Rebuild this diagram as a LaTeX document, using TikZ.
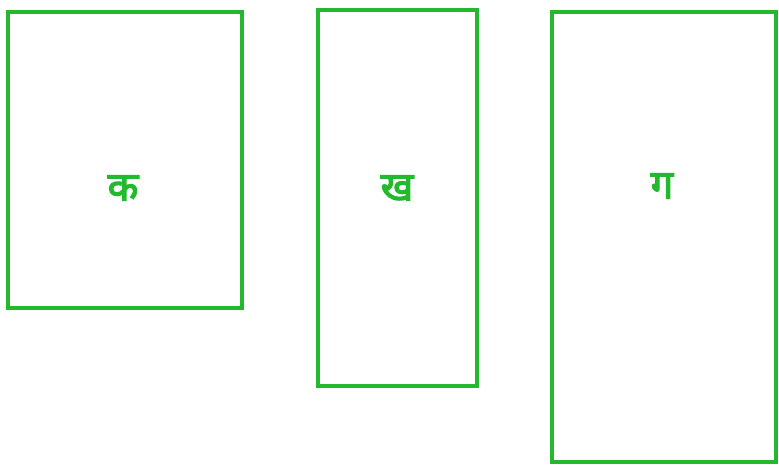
\documentclass[tikz,border=0pt]{standalone}
\usepackage{fontspec}
\newfontfamily\deva[Script=Devanagari, FakeBold=3]{Noto Sans}
\definecolor{boxgreen}{RGB}{35,185,45}
\tikzset{
  panel/.style={draw=boxgreen, line width=3.6pt, fill=white},
  letter/.style={text=boxgreen, font=\deva\fontsize{40}{44}\selectfont, inner sep=0pt}
}
\begin{document}
\begin{tikzpicture}[x=1pt,y=-1pt]
\useasboundingbox (0,0) rectangle (779,465);
\fill[white] (0,0) rectangle (779,465);
\draw[panel] (8,12) rectangle (242,308);
\draw[panel] (318,10) rectangle (477,386);
\draw[panel] (552,12) rectangle (776,462);
\node[letter] (ka) at (123,188) {क};
\node[letter] (kha) at (397,188) {ख};
\node[letter] (ga) at (662,186) {ग};
\end{tikzpicture}
\end{document}
